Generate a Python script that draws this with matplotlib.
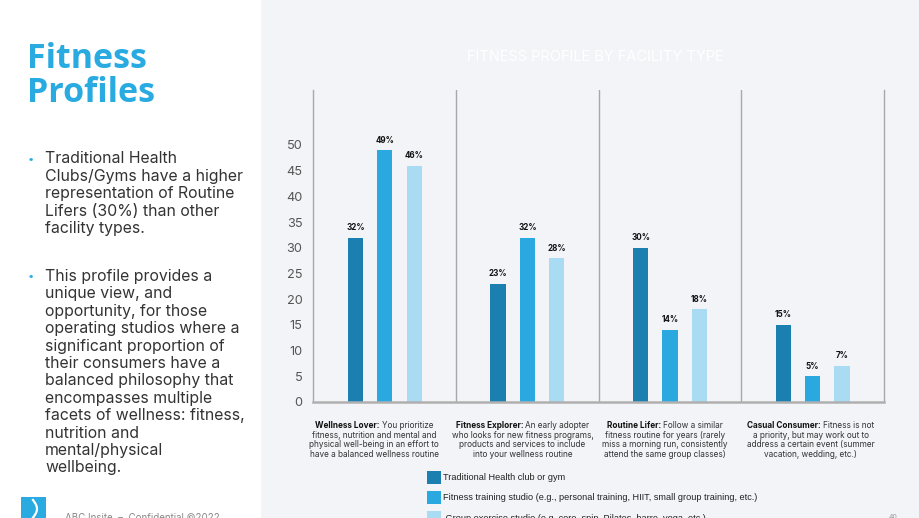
import matplotlib
matplotlib.use("Agg")
import matplotlib.pyplot as plt
import matplotlib.patches as mpatches
import numpy as np

# ---------------- data ----------------
categories = ["Wellness Lover", "Fitness Explorer", "Routine Lifer", "Casual Consumer"]
cat_desc = [
    ["You prioritize", "fitness, nutrition and mental and",
     "physical well-being in an effort to", "have a balanced wellness routine"],
    ["An early adopter", "who looks for new fitness programs,",
     "products and services to include", "into your wellness routine"],
    ["Follow a similar", "fitness routine for years (rarely",
     "miss a morning run, consistently", "attend the same group classes)"],
    ["Fitness is not", "a priority, but may work out to",
     "address a certain event (summer", "vacation, wedding, etc.)"],
]
series_names = [
    "Traditional Health club or gym",
    "Fitness training studio (e.g., personal training, HIIT, small group training, etc.)",
    " Group exercise studio (e.g. core, spin, Pilates, barre, yoga, etc.)",
]
traditional = [32, 23, 30, 15]
training_studio = [49, 32, 14, 5]
group_studio = [46, 28, 18, 7]
yticks = [0, 5, 10, 15, 20, 25, 30, 35, 40, 45, 50]

title_left = "Fitness\nProfiles"
bullets = [
    ["Traditional Health", "Clubs/Gyms have a higher", "representation of Routine",
     "Lifers (30%) than other", "facility types."],
    ["This profile provides a", "unique view, and", "opportunity, for those",
     "operating studios where a", "significant proportion of", "their consumers have a",
     "balanced philosophy that", "encompasses multiple", "facets of wellness: fitness,",
     "nutrition and", "mental/physical", "wellbeing."],
]

# ---------------- style ----------------
W, H = 920, 518
FONT = "Inter"
plt.rcParams["font.family"] = [FONT, "DejaVu Sans"]

c_dark = "#1b7fb0"
c_mid = "#2aa8e0"
c_light = "#a9dcf3"
bg_right = "#f3f4f8"
blue_title = "#29abe2"

fig = plt.figure(figsize=(W / 100, H / 100), dpi=100)
fig.patch.set_facecolor("white")
renderer = fig.canvas.get_renderer()

def fx(px):
    return px / W

def fy(py):
    return 1 - py / H

# right panel background
fig.patches.append(mpatches.Rectangle((fx(261), 0), 1 - fx(261), 1, transform=fig.transFigure,
                                      facecolor=bg_right, edgecolor="none", zorder=-10))

# ---------------- left panel ----------------
fig.text(fx(27), fy(42), title_left, color=blue_title, fontsize=24.5, fontweight="bold",
         va="top", ha="left", linespacing=1.0, family=["Open Sans", "DejaVu Sans"])

line_h = 17.4
ystart = [159, 276.5]
for b, lines in enumerate(bullets):
    y0 = ystart[b]
    fig.text(fx(31), fy(y0), "•", color=blue_title, fontsize=8, va="center", ha="center")
    for i, ln in enumerate(lines):
        fig.text(fx(45), fy(y0 + i * line_h), ln, color="#333333", fontsize=11.4,
                 va="center", ha="left")

# logo and footer
fig.patches.append(mpatches.Rectangle((fx(21), 0), fx(25), fy(497), transform=fig.transFigure,
                                      facecolor=blue_title, edgecolor="none"))
t = np.linspace(0, 1, 30)
fig.lines.append(plt.Line2D(fx(33 + 4 * np.sin(t * 3.2)), fy(500 + 18 * t),
                            transform=fig.transFigure, color="white", lw=1.6))
fig.text(fx(65), fy(513), "ABC Insite  \u2013  Confidential \u00a92022", color="#888888",
         fontsize=7, va="top", ha="left")
fig.text(fx(893), fy(514), "40", color="#999999", fontsize=5, va="top", ha="center")

# ---------------- chart ----------------
ax = fig.add_axes([fx(313.5), fy(402), fx(884) - fx(313.5), fy(90) - fy(402)])
ax.set_facecolor("none")
x = np.arange(len(categories))
bw = 0.107
off = 0.206
b1 = ax.bar(x - off, traditional, bw, color=c_dark, label=series_names[0])
b2 = ax.bar(x, training_studio, bw, color=c_mid, label=series_names[1])
b3 = ax.bar(x + off, group_studio, bw, color=c_light, label=series_names[2])
for bars in (b1, b2, b3):
    ax.bar_label(bars, fmt="{:.0f}%", padding=4, fontsize=5.8, fontweight="bold",
                 color="#111111")

ax.set_xlim(-0.5, 3.5)
ax.set_ylim(0, 60.7)
ax.set_yticks(yticks)
ax.tick_params(axis="y", length=0, pad=8, labelsize=9.2, labelcolor="#555555")
ax.set_xticks([])
ax.spines["top"].set_visible(False)
for s in ("left", "right"):
    ax.spines[s].set_color("#a8a8a8")
    ax.spines[s].set_linewidth(1.0)
ax.spines["bottom"].set_color("#b0b0b0")
ax.spines["bottom"].set_linewidth(1.8)
for xs in (0.5, 1.5, 2.5):
    ax.axvline(xs, color="#a8a8a8", lw=1.0)

# chart title (white, almost invisible)
fig.text(fx(595), fy(57), "FITNESS PROFILE BY FACILITY TYPE", color="white", fontsize=10.5,
         ha="center", va="center")

# category descriptions (bold lead-in on first line)
desc_fs = 5.9
desc_offsets = [-0.075, -0.035, -0.035, -0.015]
ax_left_px = 313.5
grp_px = (884 - 313.5) / 4.0
for i, (cat, lines) in enumerate(zip(categories, cat_desc)):
    cx = ax_left_px + (i + 0.5 + desc_offsets[i]) * grp_px
    for j, ln in enumerate(lines):
        ypx = 425.7 + j * 9.6
        if j == 0:
            bold_txt = cat + ": "
            reg_txt = ln
            tb = fig.text(0, 0, bold_txt, fontsize=desc_fs, fontweight="bold", color="#111111")
            tr = fig.text(0, 0, reg_txt, fontsize=desc_fs, color="#333333")
            wb = tb.get_window_extent(renderer).width
            wr = tr.get_window_extent(renderer).width
            left = cx - (wb + wr) / 2
            tb.set_position((fx(left), fy(ypx)))
            tb.set_va("center")
            tr.set_position((fx(left + wb), fy(ypx)))
            tr.set_va("center")
        else:
            fig.text(fx(cx), fy(ypx), ln, fontsize=desc_fs, color="#333333",
                     ha="center", va="center")

# legend
leg = fig.legend(handles=[b1, b2, b3], labels=series_names, loc="upper left",
                 bbox_to_anchor=(fx(427), fy(470.5)), frameon=False,
                 handlelength=1.55, handleheight=1.85, handletextpad=0.25,
                 labelspacing=0.78, borderpad=0, borderaxespad=0,
                 prop={"family": ["Liberation Sans", "DejaVu Sans"], "size": 6.6})
for txt in leg.get_texts():
    txt.set_color("#222222")

fig.savefig("out.png", dpi=100, facecolor=fig.get_facecolor())
